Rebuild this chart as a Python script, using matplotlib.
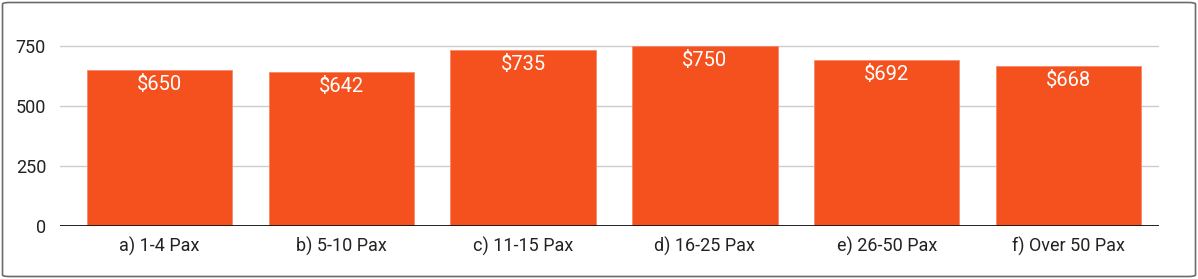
import matplotlib.pyplot as plt
from matplotlib.patches import FancyBboxPatch

categories = ["a) 1-4 Pax", "b) 5-10 Pax", "c) 11-15 Pax", "d) 16-25 Pax",
              "e) 26-50 Pax", "f) Over 50 Pax"]
prices = [650, 642, 735, 750, 692, 668]
yticks = [0, 250, 500, 750]

plt.rcParams['font.family'] = ['Roboto', 'DejaVu Sans']

fig = plt.figure(figsize=(11.98, 2.79), dpi=100)
ax = fig.add_axes([60 / 1198, 53 / 279, 1099 / 1198, 181 / 279])

# rounded card border
border = FancyBboxPatch((2.5 / 1198, 2.5 / 279), 1193 / 1198, 274 / 279,
                        boxstyle="round,pad=0,rounding_size=0.006",
                        transform=fig.transFigure, facecolor='white',
                        edgecolor='#6b6b6b', linewidth=1.2, zorder=-10)
fig.patches.append(border)

x = range(len(categories))
bars = ax.bar(x, prices, width=0.8, color='#F4511E', edgecolor='#f7886a',
              linewidth=0.6, zorder=3)

# value labels inside the top of each bar
for b, v in zip(bars, prices):
    ax.annotate(f"${v}", (b.get_x() + b.get_width() / 2, v),
                xytext=(0, -3.5), textcoords='offset points',
                ha='center', va='top', color='white', fontsize=14.5, zorder=4)

ax.set_xlim(-0.547, 5.498)
ax.set_ylim(0, 755)
ax.set_yticks(yticks)
ax.set_xticks(list(x))
ax.set_xticklabels(categories)
ax.tick_params(axis='both', length=0, labelsize=13, labelcolor='#222222')
ax.tick_params(axis='y', pad=10)
ax.tick_params(axis='x', pad=8)
ax.grid(axis='y', color='#cccccc', linewidth=1, zorder=0)
ax.axhline(0, color='#111111', linewidth=1.3, zorder=5)
for s in ax.spines.values():
    s.set_visible(False)
ax.set_facecolor('none')

fig.savefig("out.png", dpi=100, facecolor='white')
